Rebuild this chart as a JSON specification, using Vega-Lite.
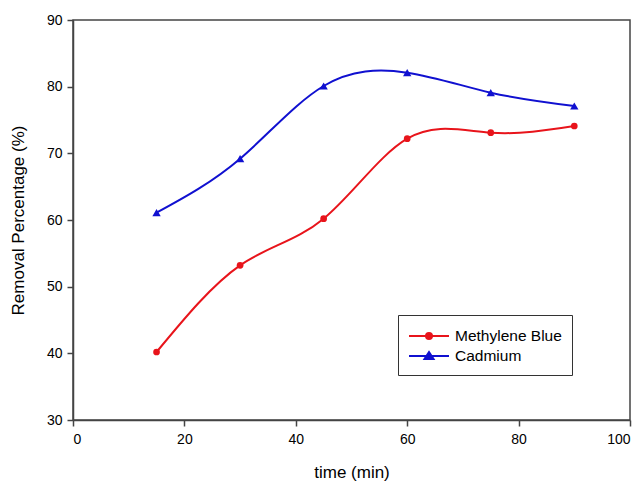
{
  "$schema": "https://vega.github.io/schema/vega-lite/v6.json",
  "width": 557,
  "height": 400,
  "autosize": "none",
  "padding": {"left": 73, "top": 20, "right": 13, "bottom": 63},
  "background": "white",
  "config": {
    "font": "Liberation Sans",
    "view": {"stroke": "#444", "strokeWidth": 1.5},
    "axis": {
      "grid": false,
      "domainColor": "#444",
      "domainWidth": 1.5,
      "tickColor": "#444",
      "tickWidth": 1.5,
      "tickSize": 6,
      "labelFont": "Liberation Sans",
      "labelFontSize": 14,
      "labelColor": "black",
      "titleFont": "Liberation Sans",
      "titleFontSize": 17,
      "titleFontWeight": "normal",
      "titleColor": "black"
    }
  },
  "data": {
    "values": [
      {"time": 15, "removal": 40.2, "series": "Methylene Blue"},
      {"time": 30, "removal": 53.2, "series": "Methylene Blue"},
      {"time": 45, "removal": 60.2, "series": "Methylene Blue"},
      {"time": 60, "removal": 72.2, "series": "Methylene Blue"},
      {"time": 75, "removal": 73.1, "series": "Methylene Blue"},
      {"time": 90, "removal": 74.1, "series": "Methylene Blue"},
      {"time": 15, "removal": 61.1, "series": "Cadmium"},
      {"time": 30, "removal": 69.2, "series": "Cadmium"},
      {"time": 45, "removal": 80.1, "series": "Cadmium"},
      {"time": 60, "removal": 82.1, "series": "Cadmium"},
      {"time": 75, "removal": 79.1, "series": "Cadmium"},
      {"time": 90, "removal": 77.1, "series": "Cadmium"}
    ]
  },
  "encoding": {
    "x": {
      "field": "time", "type": "quantitative",
      "scale": {"domain": [0, 100], "nice": false},
      "axis": {"values": [0, 20, 40, 60, 80, 100], "title": "time (min)", "titlePadding": 18, "labelPadding": 6}
    },
    "y": {
      "field": "removal", "type": "quantitative",
      "scale": {"domain": [30, 90], "nice": false, "zero": false},
      "axis": {"values": [30, 40, 50, 60, 70, 80, 90], "title": "Removal Percentage (%)", "titlePadding": 19, "labelPadding": 5}
    },
    "color": {
      "field": "series", "type": "nominal",
      "scale": {"domain": ["Methylene Blue", "Cadmium"], "range": ["#e8141b", "#1010d0"]},
      "legend": {
        "title": null,
        "orient": "none",
        "legendX": 325,
        "legendY": 295,
        "strokeColor": "#333",
        "padding": 10,
        "labelFontSize": 15.5,
        "labelFont": "Liberation Sans",
        "labelColor": "black",
        "symbolSize": 400,
        "symbolStrokeWidth": 2,
        "labelOffset": 25,
        "rowPadding": 0,
        "encode": {
          "symbols": {
            "update": {
              "shape": {"signal": "datum.value === 'Cadmium' ? 'M-1,0H3M1,-0.4L1.45,0.3L0.55,0.3Z' : 'M-1,0H3M1.3,0A0.3,0.3,0,1,1,0.7,0A0.3,0.3,0,1,1,1.3,0Z'"},
              "fill": {"signal": "datum.value === 'Cadmium' ? '#1010d0' : '#e8141b'"},
              "fillOpacity": {"value": 1},
              "stroke": {"signal": "datum.value === 'Cadmium' ? '#1010d0' : '#e8141b'"}
            }
          }
        }
      }
    }
  },
  "layer": [
    {
      "mark": {"type": "line", "interpolate": "natural", "strokeWidth": 2}
    },
    {
      "transform": [{"filter": "datum.series === 'Methylene Blue'"}],
      "mark": {"type": "point", "filled": true, "opacity": 1, "shape": "circle", "size": 45}
    },
    {
      "transform": [{"filter": "datum.series === 'Cadmium'"}],
      "mark": {"type": "point", "filled": true, "opacity": 1, "shape": "triangle-up", "size": 70}
    }
  ]
}
